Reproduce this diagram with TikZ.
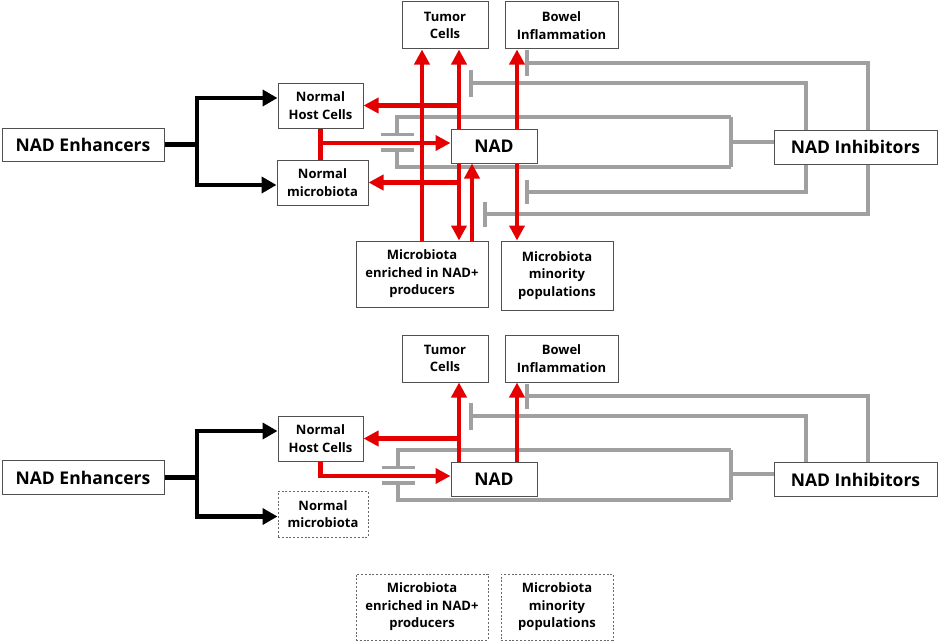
\documentclass[tikz,border=0pt]{standalone}
\usepackage{fontspec}
\setmainfont{Open Sans}
\usetikzlibrary{arrows.meta}
\definecolor{redc}{RGB}{228,0,0}
\definecolor{grayc}{RGB}{160,160,160}
\definecolor{boxc}{RGB}{80,80,80}
\definecolor{dashc}{RGB}{105,105,105}
\begin{document}
\begin{tikzpicture}[x=1pt,y=-1pt,
  box/.style={draw=boxc,line width=1pt,fill=white,align=center,inner sep=0pt,font=\fontsize{13}{17.5}\selectfont\bfseries},
  bigbox/.style={box,font=\fontsize{17.5}{20}\selectfont\bfseries},
  dbox/.style={box,draw=dashc,dash pattern=on 2pt off 1.8pt},
  ra/.style={draw=redc,line width=4.5pt,-{Triangle[length=15pt,width=15pt]}},
  rl/.style={draw=redc,line width=4.5pt},
  ba/.style={draw=black,line width=4.5pt,-{Triangle[length=15pt,width=16pt]}},
  gl/.style={draw=grayc,line width=3.5pt},
  gt/.style={gl,-{Bar[width=#1]}},
]
\fill[white] (0,0) rectangle (941,642);
\useasboundingbox (0,0) rectangle (941,642);

% column coordinates
\coordinate (cJ) at (197,0);
\coordinate (c1) at (459,0);
\coordinate (c2) at (472,0);
\coordinate (cB) at (517,0);
\coordinate (g1) at (868,0);
\coordinate (g2) at (806,0);

% ================= TOP DIAGRAM =================
\node[bigbox,minimum width=162pt,minimum height=33pt] (enh) at (83,144.5) {NAD Enhancers};
\node[box,minimum width=85pt,minimum height=45pt] (nhc) at (320.5,105.5) {Normal\\Host Cells};
\node[box,minimum width=91pt,minimum height=45pt] (nmb) at (322.5,182.5) {Normal\\microbiota};
\node[box,minimum width=86pt,minimum height=47pt] (tum) at (445,25.5) {Tumor\\Cells};
\node[box,minimum width=113pt,minimum height=47pt] (bow) at (561.5,25.5) {Bowel\\Inflammation};
\node[bigbox,minimum width=86pt,minimum height=34pt] (nad) at (494,146) {NAD};
\node[box,minimum width=132pt,minimum height=66pt] (men) at (422,274) {Microbiota\\enriched in NAD+\\producers};
\node[box,minimum width=112pt,minimum height=69pt] (mmi) at (557,275.5) {Microbiota\\minority\\populations};
\node[bigbox,minimum width=163pt,minimum height=34pt] (inh) at (855.5,147) {NAD Inhibitors};
\coordinate (nadL) at ([yshift=3pt]nad.west);

% black
\draw[ba] (enh.east) -- (enh.east -| cJ) |- ([yshift=7.5pt]nhc.west);
\draw[ba] (enh.east) -- (enh.east -| cJ) |- ([yshift=-2.5pt]nmb.west);

% gray inhibitor lines
\coordinate (e1) at (525,63);
\coordinate (e2) at (469,83);
\coordinate (e4) at (525,192);
\coordinate (e5) at (483,214);
\draw[gt=25pt] (inh.north -| g1) |- (e1);
\draw[gt=27pt] (inh.north -| g2) |- (e2);
\draw[gt=24pt] (inh.south -| g2) |- (e4);
\draw[gt=25pt] (inh.south -| g1) |- (e5);
\coordinate (k1) at (731,117);
\coordinate (k2) at (731,167);
\coordinate (k3) at (397,136);
\coordinate (k4) at (397,148);
\draw[gl] ([yshift=5pt]inh.west) -- ([yshift=5pt]inh.west -| k1);
\draw[gl] (k1) -- (k2);
\draw[gt=33pt] (k1) -| (k3);
\draw[gt=33pt] (k2) -| (k4);

% red
\draw[ra] (men.north) -- (men.north |- tum.south);
\draw[ra] (nad.north -| c1) -- (tum.south -| c1);
\draw[ra] (nhc.east -| c1) -- (nhc.east);
\draw[ra] (nad.north -| cB) -- (bow.south -| cB);
\draw[rl] (nhc.south) -- (nhc.south |- nmb.north);
\draw[ra] (nhc.south |- nadL) -- (nadL);
\draw[ra] (nad.south -| c1) -- (men.north -| c1);
\draw[ra] (nmb.east -| c1) -- (nmb.east);
\draw[ra] (men.north -| c2) -- (nad.south -| c2);
\draw[ra] (nad.south -| cB) -- (mmi.north -| cB);

% ================= BOTTOM DIAGRAM =================
\node[bigbox,minimum width=162pt,minimum height=34pt] (enhB) at (83,477.5) {NAD Enhancers};
\node[box,minimum width=85pt,minimum height=45pt] (nhcB) at (320.5,438.5) {Normal\\Host Cells};
\node[dbox,minimum width=90pt,minimum height=46pt] (nmbB) at (323,514) {Normal\\microbiota};
\node[box,minimum width=86pt,minimum height=47pt] (tumB) at (445,358.5) {Tumor\\Cells};
\node[box,minimum width=113pt,minimum height=47pt] (bowB) at (561.5,358.5) {Bowel\\Inflammation};
\node[bigbox,minimum width=86pt,minimum height=34pt] (nadB) at (494,479) {NAD};
\node[dbox,minimum width=132pt,minimum height=66pt] (menB) at (422,607) {Microbiota\\enriched in NAD+\\producers};
\node[dbox,minimum width=112pt,minimum height=66pt] (mmiB) at (557,607) {Microbiota\\minority\\populations};
\node[bigbox,minimum width=163pt,minimum height=34pt] (inhB) at (855.5,479.5) {NAD Inhibitors};
\coordinate (nadBL) at ([yshift=3pt]nadB.west);

% black
\draw[ba] (enhB.east) -- (enhB.east -| cJ) |- ([yshift=7.5pt]nhcB.west);
\draw[ba] (enhB.east) -- (enhB.east -| cJ) |- ([yshift=-2.5pt]nmbB.west);

% gray
\coordinate (f1) at (525,396);
\coordinate (f2) at (469,416);
\draw[gt=25pt] (inhB.north -| g1) |- (f1);
\draw[gt=27pt] (inhB.north -| g2) |- (f2);
\coordinate (m1) at (731,450);
\coordinate (m2) at (731,500);
\coordinate (m3) at (398,469);
\coordinate (m4) at (398,481);
\draw[gl] ([yshift=5.5pt]inhB.west) -- ([yshift=5.5pt]inhB.west -| m1);
\draw[gl] (m1) -- (m2);
\draw[gt=33pt] (m1) -| (m3);
\draw[gt=33pt] (m2) -| (m4);

% red
\draw[ra] (nadB.north -| c1) -- (tumB.south -| c1);
\draw[ra] (nhcB.east -| c1) -- (nhcB.east);
\draw[ra] (nadB.north -| cB) -- (bowB.south -| cB);
\draw[ra] (nhcB.south) |- (nadBL);
\end{tikzpicture}
\end{document}
